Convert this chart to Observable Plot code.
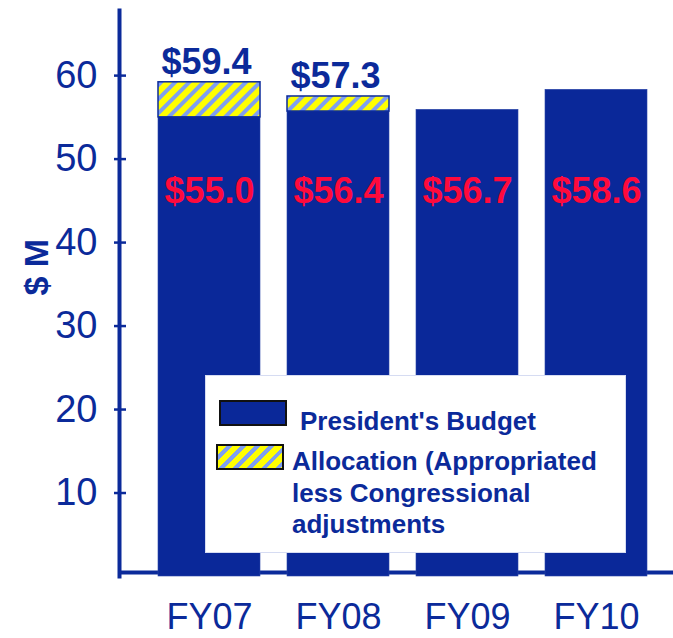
<!DOCTYPE html>
<html>
<head>
<meta charset="utf-8">
<script src="https://cdn.jsdelivr.net/npm/d3@7"></script>
<script src="https://cdn.jsdelivr.net/npm/@observablehq/plot@0.6"></script>
<style>
  html, body { margin: 0; padding: 0; background: #fff; }
  #wrap { position: relative; width: 673px; height: 638px; font-family: "Liberation Sans", Arial, sans-serif; }
  #legend { position: absolute; left: 205px; top: 375px; width: 421px; height: 178px; background: #fff; border: 1px solid #d6dcf2; box-sizing: border-box; }
  .sw { position: absolute; box-sizing: border-box; border: 2px solid #111; }
  .lt { position: absolute; font-weight: bold; font-size: 26px; line-height: 31.5px; color: #0b2a9a; white-space: nowrap; }
</style>
</head>
<body>
<div id="wrap">
  <div id="chart"></div>
  <div id="legend">
    <div class="sw" style="left:13px; top:24px; width:68px; height:26px; background:#0a2899;"></div>
    <div class="lt" style="left:94px; top:30px;">President's Budget</div>
    <div class="sw" style="left:10px; top:68px; width:68px; height:26px; background:repeating-linear-gradient(135deg, #ffff00 0 6px, #7f9ff0 6px 10px);"></div>
    <div class="lt" style="left:86px; top:70px;">Allocation (Appropriated<br>less Congressional<br>adjustments</div>
  </div>
</div>
<script>
const years = ["FY07", "FY08", "FY09", "FY10"];
const presidentBudget = [55.0, 55.7, 55.9, 58.3];
const allocationTotal = [59.2, 57.5, null, null];
const presidentLabels = ["$55.0", "$56.4", "$56.7", "$58.6"];
const allocationLabels = ["$59.4", "$57.3", "", ""];
const yTicks = [10, 20, 30, 40, 50, 60];

const BLUE = "#0b2a9a";
const BAR = "#0a2899";
const RED = "#ff0a3c";

const rows = years.map((year, i) => ({
  year,
  president: presidentBudget[i],
  allocation: allocationTotal[i],
  pLabel: presidentLabels[i],
  aLabel: allocationLabels[i]
}));
const alloc = rows.filter(d => d.allocation != null);

const chart = Plot.plot({
  width: 673,
  height: 638,
  marginLeft: 119,
  marginRight: 0,
  marginTop: 10,
  marginBottom: 62,
  style: { fontFamily: "'Liberation Sans', Arial, sans-serif", color: BLUE, background: "white", overflow: "visible" },
  x: { domain: years, paddingInner: 0.212, paddingOuter: 0.247, align: 0.59, label: null },
  y: { domain: [0, 67.8], label: null },
  marks: [
    Plot.ruleY([0], { stroke: BLUE, strokeWidth: 4, dy: -4 }),
    Plot.frame({ anchor: "left", stroke: BLUE, strokeWidth: 4 }),
    Plot.barY(rows, { x: "year", y: "president", fill: BAR, stroke: "#2a45a8", strokeWidth: 0.6 }),
    Plot.barY(alloc, { x: "year", y1: "president", y2: "allocation", fill: "url(#hatch)", stroke: BLUE, strokeWidth: 1.5 }),
    Plot.text(rows, { x: "year", text: "pLabel", frameAnchor: "top", lineAnchor: "bottom", dy: 192, fill: RED, fontSize: 36, fontWeight: "bold" }),
    Plot.text(alloc, { x: "year", y: "allocation", text: "aLabel", lineAnchor: "bottom", dy: -8, dx: -3, fill: BLUE, fontSize: 36, fontWeight: "bold" }),
    Plot.text(["$ M"], { text: d => d, frameAnchor: "left", rotate: -90, dx: -82, dy: 2, fontSize: 34, fontWeight: "bold", fill: BLUE }),
    Plot.axisY({ ticks: yTicks, tickSize: 12, dx: 7, tickPadding: 17, fontSize: 38, label: null, strokeWidth: 2.5 }),
    Plot.axisX({ tickSize: 0, tickPadding: 27, fontSize: 36, label: null })
  ]
});

const svg = d3.select(chart.tagName.toLowerCase() === "svg" ? chart : chart.querySelector("svg"));
const defs = svg.insert("defs", ":first-child");
const pat = defs.append("pattern")
  .attr("id", "hatch")
  .attr("patternUnits", "userSpaceOnUse")
  .attr("width", 10)
  .attr("height", 10)
  .attr("patternTransform", "rotate(45)");
pat.append("rect").attr("width", 10).attr("height", 10).attr("fill", "#ffff00");
pat.append("rect").attr("width", 4).attr("height", 10).attr("fill", "#7f9ff0");

document.getElementById("chart").appendChild(chart);
</script>
</body>
</html>
